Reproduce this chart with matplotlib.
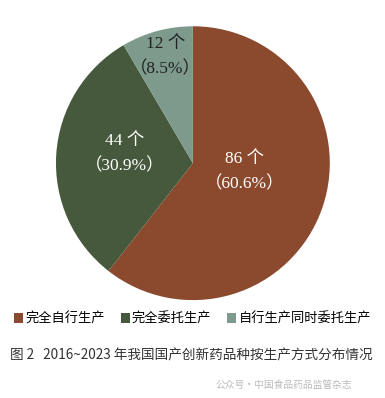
import matplotlib.pyplot as plt
from matplotlib.patches import Patch

plt.rcParams['font.family'] = ['Noto Sans CJK SC', 'DejaVu Sans']

categories = ['完全自行生产', '完全委托生产', '自行生产同时委托生产']
counts = [86, 44, 12]
pcts = ['60.6%', '30.9%', '8.5%']
colors = ['#8B4A2E', '#46593C', '#7E9A8C']

fig = plt.figure(figsize=(3.85, 3.98), dpi=100)
ax = fig.add_axes([0.145, 0.246, 0.712, 0.688])
wedges, _ = ax.pie(counts, colors=colors, startangle=90, counterclock=False,
                   wedgeprops=dict(linewidth=0))
ax.set_aspect('equal')
ax.set_xlim(-1, 1)
ax.set_ylim(-1, 1)

# label positions (in data coords, radius 1)
lab_pos = [(0.38, -0.06), (-0.5, 0.07), (-0.2, 0.78)]
lab_col = ['white', 'white', '#222222']
serif = ['Liberation Serif', 'Noto Sans CJK SC']
for (x, y), c, p, col in zip(lab_pos, counts, pcts, lab_col):
    ax.text(x, y + 0.09, f'{c} 个', ha='center', va='center', fontsize=12.5,
            color=col, family=serif)
    ax.text(x, y - 0.09, f'（{p}）', ha='center', va='center', fontsize=12.5,
            color=col, family=serif)

handles = [Patch(facecolor=c, edgecolor='none') for c in colors]
fig.legend(handles, categories, loc='center', bbox_to_anchor=(0.5, 0.198),
           ncol=3, frameon=False, fontsize=9.5, handlelength=0.7,
           handleheight=0.7, handletextpad=0.15, columnspacing=1.2)

fig.text(0.025, 0.107, '图 2   2016~2023 年我国国产创新药品种按生产方式分布情况',
         fontsize=9.8, color='#333333', va='center')
fig.text(0.56, 0.032, '公众号·中国食品药品监管杂志', fontsize=7, color='#bbbbbb',
         va='center')

fig.savefig('out.png', dpi=100, facecolor='white')
